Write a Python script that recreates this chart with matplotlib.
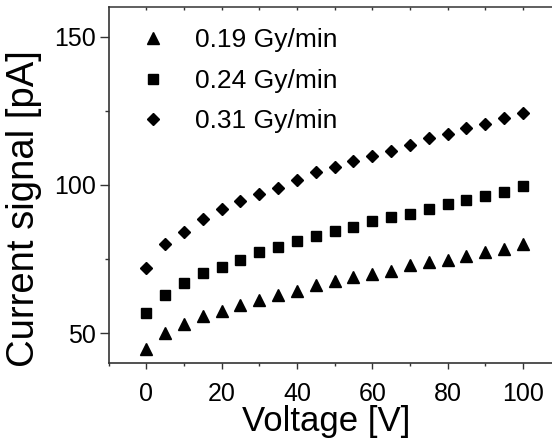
import matplotlib
matplotlib.use("Agg")
import matplotlib.pyplot as plt
from matplotlib.ticker import MultipleLocator

plt.rcParams['font.family'] = ['Liberation Sans', 'DejaVu Sans']

voltage = [0, 5, 10, 15, 20, 25, 30, 35, 40, 45, 50, 55, 60, 65, 70, 75, 80, 85, 90, 95, 100]
dose_019 = [44.7, 50.0, 52.9, 55.6, 57.4, 59.4, 61.3, 62.7, 64.2, 66.1, 67.6, 68.9, 69.8, 70.9,
            72.9, 74.0, 74.8, 75.9, 77.4, 78.5, 80.0]
dose_024 = [56.9, 63.0, 66.8, 70.1, 72.3, 74.8, 77.2, 79.2, 81.0, 82.6, 84.5, 85.8, 87.8, 89.0,
            90.3, 91.7, 93.6, 94.8, 96.3, 97.6, 99.6]
dose_031 = [71.8, 79.9, 84.1, 88.6, 91.8, 94.5, 96.9, 99.1, 101.6, 104.4, 106.1, 108.0, 109.8,
            111.5, 113.6, 115.7, 117.0, 119.1, 120.4, 122.4, 124.1]
labels = ['0.19 Gy/min', '0.24 Gy/min', '0.31 Gy/min']
x_ticks = [0, 20, 40, 60, 80, 100]
x_top_ticks = [0, 10, 20, 30, 40, 50, 60, 70, 80, 90, 100]
y_ticks = [50, 100, 150]

W, H = 552, 441
fig = plt.figure(figsize=(W / 100, H / 100), dpi=100)
ax = fig.add_axes([108.5 / W, 1 - 362.7 / H, 1 - 108.5 / W, (362.7 - 7) / H])

ax.plot(voltage, dose_019, '^', color='black', ms=9.0, ls='none', label=labels[0])
ax.plot(voltage, dose_024, 's', color='black', ms=7.0, ls='none', label=labels[1])
ax.plot(voltage, dose_031, 'D', color='black', ms=6.3, ls='none', label=labels[2])

ax.set_xlim(-10, 107.7)
ax.set_ylim(40, 160)
ax.set_xticks(x_ticks)
ax.set_yticks(y_ticks)
ax.xaxis.set_minor_locator(MultipleLocator(10))
ax.yaxis.set_minor_locator(MultipleLocator(25))

ax.spines['right'].set_visible(False)
ax.spines['top'].set_visible(False)
for s in ['left', 'bottom']:
    ax.spines[s].set_linewidth(1.2)
    ax.spines[s].set_color('#333333')

ax.tick_params(axis='x', which='major', direction='out', length=4, width=1.0,
               labelsize=18, colors='#333333', labelcolor='black', pad=10)
ax.tick_params(axis='x', which='minor', direction='out', length=2.4, width=1.0, colors='#333333')
ax.tick_params(axis='y', which='major', direction='out', length=6.8, width=1.0,
               labelsize=18, colors='#333333', labelcolor='black', pad=2.5)
ax.tick_params(axis='y', which='minor', direction='out', length=3, width=1.0, colors='#333333')

top = ax.secondary_xaxis('top')
top.set_xticks(x_top_ticks)
top.tick_params(axis='x', which='major', direction='in', length=2.5, width=1.0,
                labeltop=False, colors='#333333')
top.spines['top'].set_linewidth(1.2)
top.spines['top'].set_color('#444444')

ax.set_xlabel('Voltage [V]', fontsize=25)
ax.set_ylabel('Current signal [pA]', fontsize=27.5)
ax.xaxis.set_label_coords(326.5 / W, 1 - 405 / H, transform=fig.transFigure)
ax.yaxis.set_label_coords(42 / W, 1 - 209 / H, transform=fig.transFigure)

fs = 19
leg = ax.legend(loc='upper left', bbox_to_anchor=(139.8 / W, 1 - 28.5 / H),
                bbox_transform=fig.transFigure, frameon=False, fontsize=fs,
                handletextpad=1.09, labelspacing=0.62, handlelength=1.0,
                borderaxespad=0, borderpad=0)

fig.savefig('out.png', dpi=100)
